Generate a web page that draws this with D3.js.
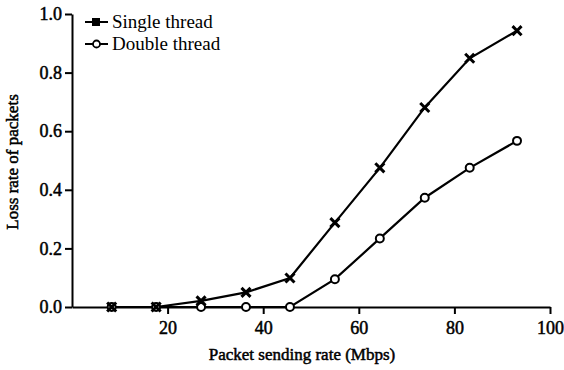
<!DOCTYPE html>
<head>
<meta charset="utf-8">
<title>Loss rate</title>
<script src="https://d3js.org/d3.v7.min.js"></script>
<style>
  body { margin: 0; background: #fff; }
  svg text { font-family: "Liberation Serif", "Times New Roman", serif !important; fill: #000; }
  svg text.heavy { stroke: #000; stroke-width: 0.5px; }
</style>
</head>
<body>
<div id="chart"></div>
<script>
var rates = [8.3, 17.6, 27, 36.4, 45.6, 55, 64.4, 73.8, 83.2, 93.1];
var singleLoss = [0, 0, 0.021, 0.05, 0.099, 0.288, 0.475, 0.681, 0.849, 0.943];
var doubleLoss = [0, 0, 0, 0, 0, 0.095, 0.234, 0.373, 0.475, 0.567];
var xTicks = [20, 40, 60, 80, 100];
var yTicks = [0, 0.2, 0.4, 0.6, 0.8, 1.0];

var width = 564, height = 370;
var svg = d3.select("#chart").append("svg")
  .attr("width", width).attr("height", height);

var x = d3.scaleLinear().domain([0, 100]).range([72, 550]);
var y = d3.scaleLinear().domain([0, 1]).range([307, 14]);

// axes
var xAxis = svg.append("g")
  .attr("transform", "translate(0," + y(0) + ")")
  .call(d3.axisBottom(x).tickValues(xTicks).tickSize(7).tickSizeOuter(0).tickFormat(d3.format("d")));
var yAxis = svg.append("g")
  .attr("transform", "translate(" + x(0) + ",0)")
  .call(d3.axisLeft(y).tickValues(yTicks).tickSize(7).tickSizeOuter(0).tickFormat(d3.format(".1f")));

[xAxis, yAxis].forEach(function (a) {
  a.attr("font-family", null).attr("font-size", null);
  a.select(".domain").attr("stroke", "#000").attr("stroke-width", 2);
  a.selectAll(".tick line").attr("stroke", "#000").attr("stroke-width", 2);
  a.selectAll(".tick text").attr("class", "heavy").style("font-size", "18px").attr("fill", "#000");
});
xAxis.selectAll(".tick text").attr("dy", "1.0em").attr("y", 9);
yAxis.selectAll(".tick text").attr("x", -10);

// axis titles
svg.append("text").attr("class", "heavy")
  .attr("x", 302).attr("y", 360)
  .style("text-anchor", "middle").style("font-size", "17px")
  .text("Packet sending rate (Mbps)");
svg.append("text").attr("class", "heavy")
  .attr("transform", "translate(18,162) rotate(-90)")
  .style("text-anchor", "middle").style("font-size", "17px")
  .text("Loss rate of packets");

var line = d3.line()
  .x(function (d) { return x(d[0]); })
  .y(function (d) { return y(d[1]); });

var singleData = rates.map(function (r, i) { return [r, singleLoss[i]]; });
var doubleData = rates.map(function (r, i) { return [r, doubleLoss[i]]; });

svg.append("path").datum(doubleData)
  .attr("d", line).attr("fill", "none").attr("stroke", "#000").attr("stroke-width", 2.2);
svg.append("path").datum(singleData)
  .attr("d", line).attr("fill", "none").attr("stroke", "#000").attr("stroke-width", 2.2);

var circ = d3.symbol().type(d3.symbolCircle).size(50);
var cross = d3.symbol().type(d3.symbolX).size(55);

svg.selectAll(".dbl").data(doubleData).enter().append("path")
  .attr("transform", function (d) { return "translate(" + x(d[0]) + "," + y(d[1]) + ")"; })
  .attr("d", circ).attr("fill", "#fff").attr("stroke", "#000").attr("stroke-width", 2);

svg.selectAll(".sgl").data(singleData).enter().append("path")
  .attr("transform", function (d) { return "translate(" + x(d[0]) + "," + y(d[1]) + ")"; })
  .attr("d", cross).attr("fill", "none").attr("stroke", "#000").attr("stroke-width", 3);

// legend
var legend = [
  { name: "Single thread", sym: "square", y: 22 },
  { name: "Double thread", sym: "circle", y: 44 }
];
legend.forEach(function (l) {
  svg.append("line").attr("x1", 85).attr("x2", 108).attr("y1", l.y).attr("y2", l.y)
    .attr("stroke", "#000").attr("stroke-width", 2);
  if (l.sym === "square") {
    svg.append("rect").attr("x", 92).attr("y", l.y - 4).attr("width", 8).attr("height", 8).attr("fill", "#000");
  } else {
    svg.append("circle").attr("cx", 96.5).attr("cy", l.y).attr("r", 3.5)
      .attr("fill", "#fff").attr("stroke", "#000").attr("stroke-width", 1.8);
  }
  svg.append("text").attr("x", 112).attr("y", l.y + 6)
    .style("font-size", "19px").text(l.name);
});
</script>
</body>
